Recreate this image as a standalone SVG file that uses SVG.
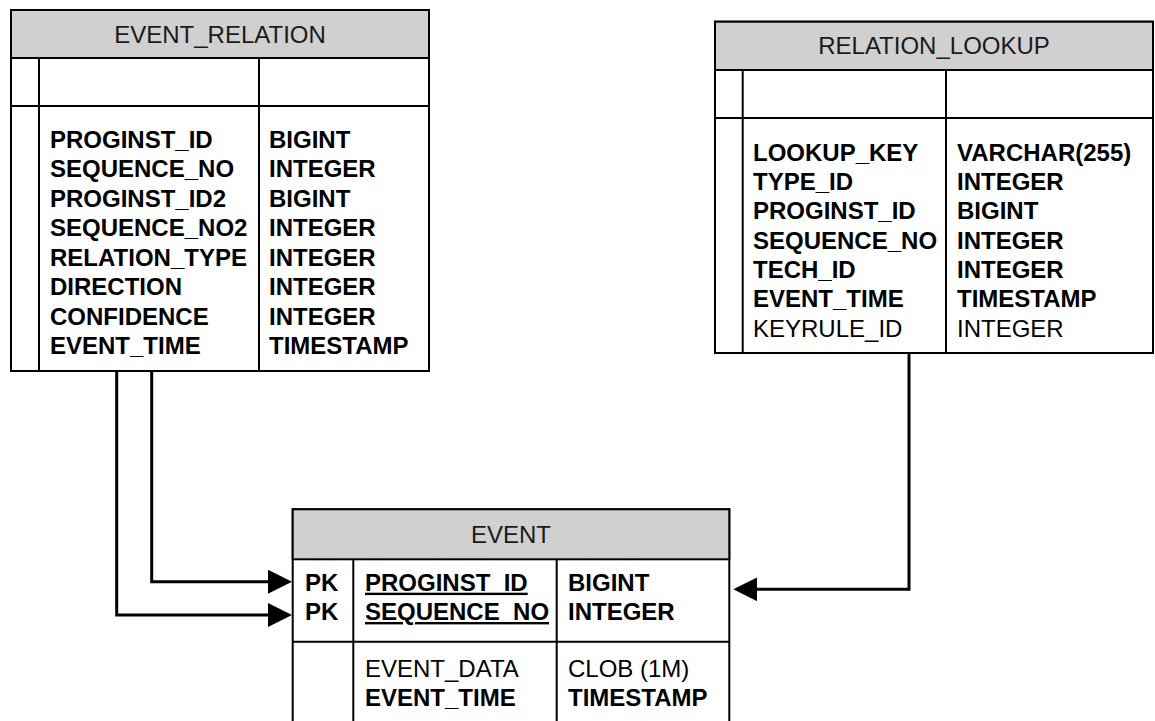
<svg xmlns="http://www.w3.org/2000/svg" width="1155" height="721" viewBox="0 0 1155 721">
<style>
.box{fill:#fff;stroke:#000;stroke-width:2}
.hdr{fill:#d0d0d0;stroke:#000;stroke-width:2}
.ln{stroke:#000;stroke-width:2;fill:none}
.t{font-family:"Liberation Sans",Arial,sans-serif;font-size:24px;fill:#000}
.b{font-weight:bold}
.ttl{text-anchor:middle;fill:#1a1a1a}
.u{text-decoration:underline}
.con{stroke:#000;stroke-width:3;fill:none}
</style>
<defs>
<marker id="arr" viewBox="0 0 24 24" refX="20" refY="12" markerWidth="24" markerHeight="24" markerUnits="userSpaceOnUse" orient="auto">
<path d="M0,0 L24,12 L0,24 z" fill="#000"/>
</marker>
</defs>
<rect width="1155" height="721" fill="#fff"/>
<g id="connectors">
<path class="con" d="M151.7,371 V581.7 H288" marker-end="url(#arr)"/>
<path class="con" d="M116.7,371 V615 H288" marker-end="url(#arr)"/>
<path class="con" d="M909,354 V589.3 H737.3" marker-end="url(#arr)"/>
</g>
<g id="event_relation">
<rect class="box" x="11" y="10" width="418" height="361"/>
<rect class="hdr" x="11" y="10" width="418" height="48"/>
<line class="ln" x1="11" y1="106" x2="429" y2="106"/>
<line class="ln" x1="39" y1="58" x2="39" y2="371"/>
<line class="ln" x1="259" y1="58" x2="259" y2="371"/>
<text class="t ttl" x="220" y="42.5">EVENT_RELATION</text>
<g class="t b">
<text x="50" y="147.7">PROGINST_ID</text>
<text x="50" y="177.2">SEQUENCE_NO</text>
<text x="50" y="206.7">PROGINST_ID2</text>
<text x="50" y="236.2">SEQUENCE_NO2</text>
<text x="50" y="265.7">RELATION_TYPE</text>
<text x="50" y="295.2">DIRECTION</text>
<text x="50" y="324.7">CONFIDENCE</text>
<text x="50" y="354.2">EVENT_TIME</text>
<text x="269" y="147.7">BIGINT</text>
<text x="269" y="177.2">INTEGER</text>
<text x="269" y="206.7">BIGINT</text>
<text x="269" y="236.2">INTEGER</text>
<text x="269" y="265.7">INTEGER</text>
<text x="269" y="295.2">INTEGER</text>
<text x="269" y="324.7">INTEGER</text>
<text x="269" y="354.2">TIMESTAMP</text>
</g>
</g>
<g id="relation_lookup">
<rect class="box" x="715" y="21.7" width="438" height="331.3"/>
<rect class="hdr" x="715" y="21.7" width="438" height="48.3"/>
<line class="ln" x1="715" y1="118" x2="1153" y2="118"/>
<line class="ln" x1="742.7" y1="70" x2="742.7" y2="353"/>
<line class="ln" x1="946" y1="70" x2="946" y2="353"/>
<text class="t ttl" x="934" y="53.5">RELATION_LOOKUP</text>
<g class="t">
<text class="b" x="753" y="160.7">LOOKUP_KEY</text>
<text class="b" x="753" y="190">TYPE_ID</text>
<text class="b" x="753" y="219.3">PROGINST_ID</text>
<text class="b" x="753" y="248.7">SEQUENCE_NO</text>
<text class="b" x="753" y="278">TECH_ID</text>
<text class="b" x="753" y="307.3">EVENT_TIME</text>
<text x="753" y="336.5">KEYRULE_ID</text>
<text class="b" x="957" y="160.7">VARCHAR(255)</text>
<text class="b" x="957" y="190">INTEGER</text>
<text class="b" x="957" y="219.3">BIGINT</text>
<text class="b" x="957" y="248.7">INTEGER</text>
<text class="b" x="957" y="278">INTEGER</text>
<text class="b" x="957" y="307.3">TIMESTAMP</text>
<text x="957" y="336.5">INTEGER</text>
</g>
</g>
<g id="event">
<rect class="box" x="292.7" y="509.3" width="436.6" height="240"/>
<rect class="hdr" x="292.7" y="509.3" width="436.6" height="50"/>
<line class="ln" x1="292.7" y1="641.7" x2="729.3" y2="641.7"/>
<line class="ln" x1="353.3" y1="559.3" x2="353.3" y2="750"/>
<line class="ln" x1="556.7" y1="559.3" x2="556.7" y2="750"/>
<text class="t ttl" x="511" y="542.7">EVENT</text>
<g class="t">
<text class="b" x="305" y="590.7">PK</text>
<text class="b" x="305" y="620">PK</text>
<text class="b u" x="365" y="590.7">PROGINST_ID</text>
<text class="b u" x="365" y="620">SEQUENCE_NO</text>
<text class="b" x="568" y="590.7">BIGINT</text>
<text class="b" x="568" y="620">INTEGER</text>
<text x="365" y="676.5">EVENT_DATA</text>
<text class="b" x="365" y="705.5">EVENT_TIME</text>
<text x="568" y="676.5">CLOB (1M)</text>
<text class="b" x="568" y="705.5">TIMESTAMP</text>
</g>
</g>
</svg>
